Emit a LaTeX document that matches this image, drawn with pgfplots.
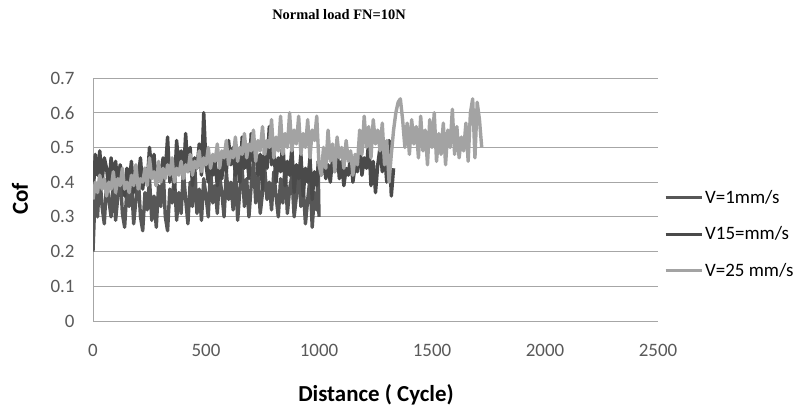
\documentclass[border=0pt]{standalone}
\usepackage{fontspec}
\setmainfont{Carlito}
\newfontfamily\titlefont{Liberation Serif}
\usepackage{pgfplots}
\pgfplotsset{compat=1.18}

\definecolor{vone}{HTML}{575757}
\definecolor{vfif}{HTML}{4A4A4A}
\definecolor{vtwf}{HTML}{A3A3A3}
\definecolor{ticktxt}{HTML}{595959}

\begin{document}
\begin{tikzpicture}
\useasboundingbox (0,0) rectangle (810bp,414bp);
\node[font=\titlefont\bfseries\fontsize{14.5}{16}\selectfont] at (339bp,399bp) {Normal load FN=10N};
\node[font=\bfseries\fontsize{23}{25}\selectfont, rotate=90] at (20bp,215bp) {Cof};
\node[font=\bfseries\fontsize{23}{25}\selectfont] at (376bp,19bp) {Distance ( Cycle)};
\begin{axis}[
    at={(93bp,93bp)}, anchor=south west,
    scale only axis,
    width=565bp, height=243bp,
    xmin=0, xmax=2500,
    ymin=0, ymax=0.7,
    xtick={0,500,1000,1500,2000,2500},
    ytick={0,0.1,0.2,0.3,0.4,0.5,0.6,0.7},
    yticklabels={0,0.1,0.2,0.3,0.4,0.5,0.6,0.7},
    axis lines*=left,
    axis line style={color=black!35, line width=1bp, -},
    major tick length=0pt,
    ymajorgrids=true,
    grid style={color=black!35, line width=1bp},
    tick label style={font=\fontsize{19}{21}\selectfont, color=ticktxt},
    /pgf/number format/assume math mode=true,
    /pgf/number format/1000 sep={},
    yticklabel style={xshift=-15bp},
    xticklabel style={yshift=-20bp},
    legend style={at={(1,0.358)}, anchor=west, xshift=3bp, draw=none, fill=none,
        font=\fontsize{19}{21}\selectfont, row sep=18bp, cells={anchor=west}},
    legend image code/.code={\draw[#1, line width=3bp] (0bp,0bp) -- (36bp,0bp);},
    line join=round,
]

\addplot[vone, line width=3.4bp] coordinates {
(0,0.20) (10,0.38) (20,0.30) (30,0.42) (40,0.33) (50,0.28) (60,0.40) (70,0.35) (80,0.30) (90,0.41)
(100,0.29) (110,0.36) (120,0.43) (130,0.31) (140,0.27) (150,0.38) (160,0.33) (170,0.40) (180,0.28) (190,0.35)
(200,0.42) (210,0.30) (220,0.26) (230,0.37) (240,0.32) (250,0.41) (260,0.29) (270,0.36) (280,0.27) (290,0.39)
(300,0.33) (310,0.44) (320,0.30) (330,0.26) (340,0.38) (350,0.34) (360,0.42) (370,0.29) (380,0.37) (390,0.31)
(400,0.43) (410,0.35) (420,0.28) (430,0.40) (440,0.33) (450,0.45) (460,0.31) (470,0.38) (480,0.29) (490,0.41)
(500,0.36) (510,0.30) (520,0.44) (530,0.34) (540,0.39) (550,0.31) (560,0.42) (570,0.37) (580,0.30) (590,0.43)
(600,0.35) (610,0.40) (620,0.32) (630,0.45) (640,0.29) (650,0.38) (660,0.44) (670,0.33) (680,0.41) (690,0.30)
(700,0.39) (710,0.46) (720,0.34) (730,0.42) (740,0.31) (750,0.37) (760,0.44) (770,0.35) (780,0.40) (790,0.32)
(800,0.43) (810,0.36) (820,0.30) (830,0.41) (840,0.34) (850,0.45) (860,0.31) (870,0.38) (880,0.42) (890,0.30)
(900,0.36) (910,0.44) (920,0.33) (930,0.39) (940,0.28) (950,0.35) (960,0.41) (970,0.27) (980,0.37) (990,0.32)
(996,0.46) (1000,0.30)
};
\addlegendentry{V=1mm/s}

\addplot[vfif, line width=3.4bp] coordinates {
(0,0.35) (10,0.48) (20,0.42) (30,0.49) (40,0.40) (50,0.47) (60,0.44) (70,0.38) (80,0.47) (90,0.41)
(100,0.46) (110,0.39) (120,0.45) (130,0.42) (140,0.36) (150,0.44) (160,0.40) (170,0.46) (180,0.37) (190,0.43)
(200,0.41) (210,0.47) (220,0.38) (230,0.44) (240,0.40) (250,0.50) (260,0.43) (270,0.48) (280,0.39) (290,0.45)
(300,0.41) (310,0.47) (320,0.43) (330,0.53) (340,0.40) (350,0.46) (360,0.38) (370,0.52) (380,0.44) (390,0.49)
(400,0.41) (410,0.54) (420,0.43) (430,0.50) (440,0.39) (450,0.47) (460,0.44) (470,0.51) (480,0.42) (490,0.60)
(500,0.45) (510,0.40) (520,0.47) (530,0.42) (540,0.46) (550,0.39) (560,0.44) (570,0.41) (580,0.48) (590,0.43)
(600,0.52) (610,0.45) (620,0.50) (630,0.42) (640,0.47) (650,0.40) (660,0.53) (670,0.44) (680,0.49) (690,0.41)
(700,0.54) (710,0.46) (720,0.50) (730,0.42) (740,0.48) (750,0.38) (760,0.51) (770,0.44) (780,0.56) (790,0.45)
(800,0.49) (810,0.40) (820,0.47) (830,0.43) (840,0.52) (850,0.39) (860,0.46) (870,0.42) (880,0.50) (890,0.37)
(900,0.45) (910,0.41) (920,0.48) (930,0.36) (940,0.44) (950,0.40) (960,0.47) (970,0.35) (980,0.43) (990,0.39)
(1000,0.46) (1010,0.42) (1020,0.48) (1030,0.41) (1040,0.45) (1050,0.40) (1060,0.47) (1070,0.43) (1080,0.50) (1090,0.41)
(1100,0.46) (1110,0.39) (1120,0.44) (1130,0.42) (1140,0.48) (1150,0.40) (1160,0.45) (1170,0.43) (1180,0.51) (1190,0.42)
(1200,0.47) (1210,0.44) (1220,0.52) (1230,0.39) (1240,0.46) (1250,0.37) (1260,0.45) (1270,0.50) (1280,0.43) (1290,0.48)
(1300,0.40) (1310,0.52) (1320,0.36) (1330,0.44)
};
\addlegendentry{V15=mm/s}

\addplot[vtwf, line width=3.4bp] coordinates {
(0,0.35) (10,0.40) (20,0.37) (30,0.42) (40,0.38) (50,0.41) (60,0.36) (70,0.40) (80,0.38) (90,0.43)
(100,0.37) (110,0.41) (120,0.39) (130,0.44) (140,0.38) (150,0.40) (160,0.37) (170,0.42) (180,0.39) (190,0.45)
(200,0.38) (210,0.41) (220,0.40) (230,0.44) (240,0.39) (250,0.47) (260,0.41) (270,0.43) (280,0.39) (290,0.46)
(300,0.40) (310,0.44) (320,0.41) (330,0.45) (340,0.42) (350,0.47) (360,0.40) (370,0.44) (380,0.42) (390,0.46)
(400,0.41) (410,0.45) (420,0.43) (430,0.48) (440,0.42) (450,0.46) (460,0.44) (470,0.49) (480,0.43) (490,0.47)
(500,0.45) (510,0.50) (520,0.44) (530,0.48) (540,0.46) (550,0.51) (560,0.44) (570,0.49) (580,0.47) (590,0.52)
(600,0.45) (610,0.49) (620,0.47) (630,0.53) (640,0.46) (650,0.50) (660,0.48) (670,0.54) (680,0.47) (690,0.51)
(700,0.49) (710,0.55) (720,0.46) (730,0.52) (740,0.49) (750,0.56) (760,0.48) (770,0.52) (780,0.50) (790,0.58)
(800,0.47) (810,0.53) (820,0.49) (830,0.59) (840,0.48) (850,0.54) (860,0.50) (870,0.60) (880,0.49) (890,0.55)
(900,0.51) (910,0.59) (920,0.48) (930,0.54) (940,0.50) (950,0.58) (960,0.47) (970,0.55) (980,0.52) (990,0.59)
(1000,0.45) (1010,0.42) (1020,0.50) (1030,0.44) (1040,0.55) (1050,0.46) (1060,0.51) (1070,0.43) (1080,0.53) (1090,0.47)
(1100,0.50) (1110,0.44) (1120,0.52) (1130,0.46) (1140,0.49) (1150,0.42) (1160,0.48) (1170,0.45) (1180,0.55) (1190,0.48)
(1200,0.59) (1210,0.50) (1220,0.56) (1230,0.47) (1240,0.58) (1250,0.51) (1260,0.55) (1270,0.49) (1280,0.57) (1290,0.45)
(1300,0.52) (1310,0.40) (1320,0.48) (1330,0.55) (1340,0.60) (1350,0.63) (1360,0.64) (1370,0.58) (1380,0.50) (1390,0.57)
(1400,0.48) (1410,0.58) (1420,0.51) (1430,0.56) (1440,0.47) (1450,0.59) (1460,0.49) (1470,0.55) (1480,0.45) (1490,0.58)
(1500,0.50) (1510,0.60) (1520,0.46) (1530,0.54) (1540,0.48) (1550,0.57) (1560,0.45) (1570,0.55) (1580,0.50) (1590,0.61)
(1600,0.48) (1610,0.56) (1620,0.47) (1630,0.53) (1640,0.49) (1650,0.57) (1660,0.46) (1670,0.60) (1680,0.64) (1690,0.47)
(1700,0.63) (1710,0.58) (1720,0.50)
};
\addlegendentry{V=25 mm/s}

\end{axis}
\end{tikzpicture}
\end{document}
